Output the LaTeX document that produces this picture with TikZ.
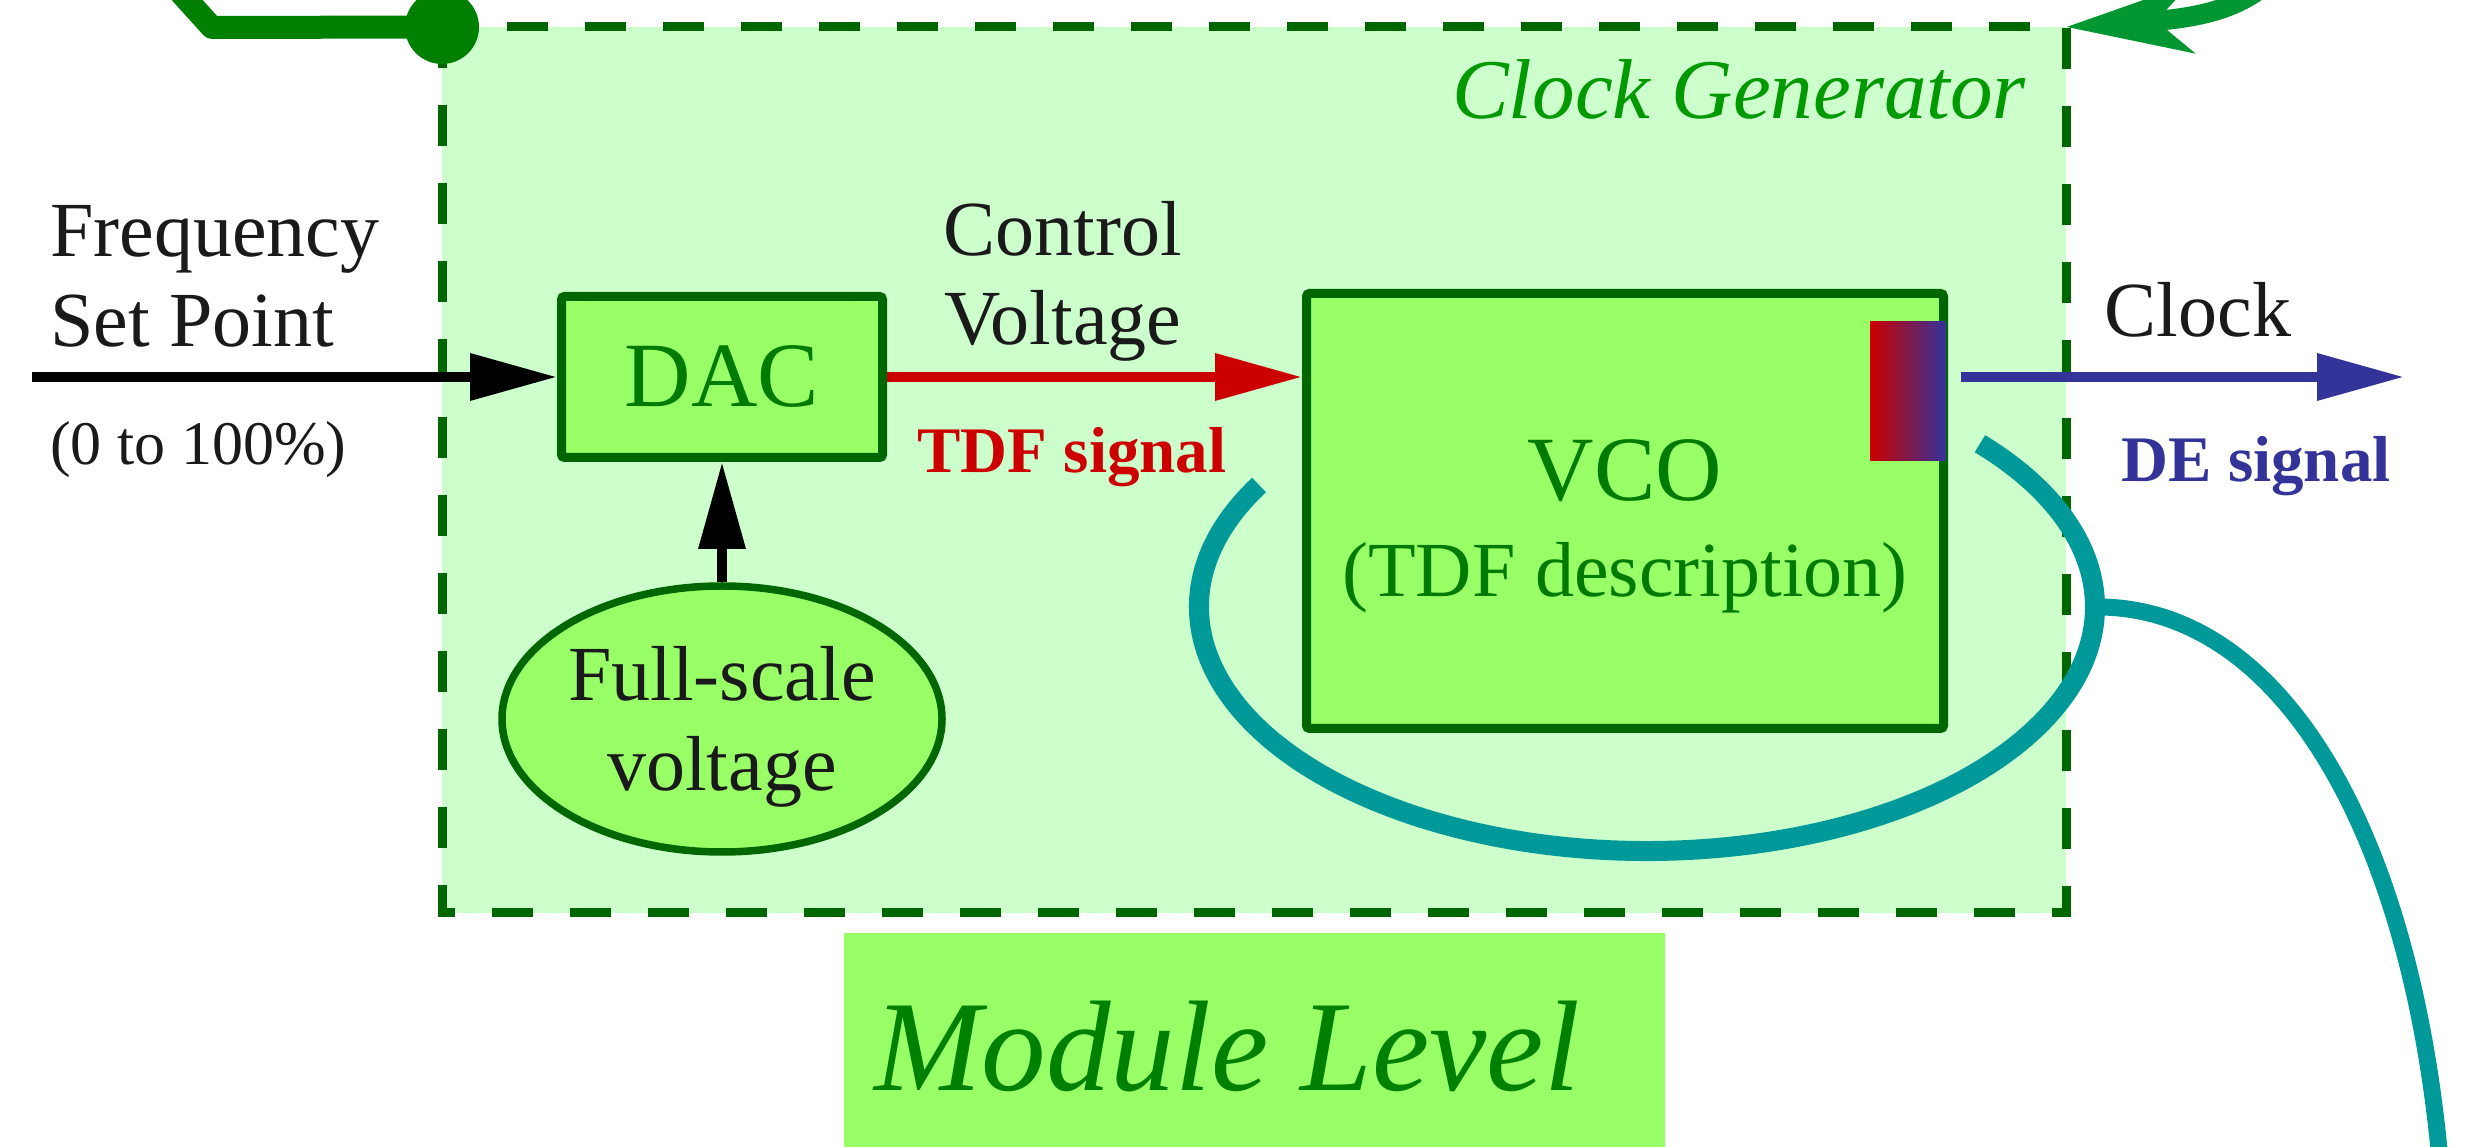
\documentclass[tikz,border=0pt]{standalone}
\usepackage{fontspec}
\setmainfont{Liberation Serif}
\usetikzlibrary{arrows.meta,shapes.geometric}
\definecolor{bglight}{HTML}{CCFFCC}
\definecolor{boxfill}{HTML}{99FF66}
\definecolor{boxline}{HTML}{006600}
\definecolor{boxtext}{HTML}{007A00}
\definecolor{cgtext}{HTML}{009900}
\definecolor{topgreen}{HTML}{008000}
\definecolor{arrgreen}{HTML}{009632}
\definecolor{loopteal}{HTML}{009999}
\definecolor{sigred}{HTML}{CC0000}
\definecolor{sigblue}{HTML}{333399}
\definecolor{txt}{HTML}{1A1A1A}
\begin{document}
\begin{tikzpicture}[x=1pt,y=1pt,
  blk/.style={draw=boxline, fill=boxfill, line width=9pt, rounded corners=3pt, inner sep=0pt},
  lbl/.style={text=txt, inner sep=0pt, font=\fontsize{78}{90}\selectfont},
  smalllbl/.style={text=txt, inner sep=0pt, font=\fontsize{62}{74}\selectfont},
  siglbl/.style={inner sep=0pt, font=\fontsize{65}{78}\selectfont\bfseries},
  sig/.style={line width=10pt, -{Triangle[length=87pt,width=45pt]}},
  cgframe/.style={draw=boxline, fill=bglight, line width=9pt, dash pattern=on 41pt off 37pt},
]
\useasboundingbox (0,0) rectangle (2476,1146);
\fill[white] (0,0) rectangle (2476,1146);

% clock generator frame
\coordinate (cgnw) at (442,1119);
\coordinate (cgse) at (2066,233);
\coordinate (cgne) at (2066,1119);
\draw[cgframe] (cgnw) rectangle (cgse);

% top-left thick line and dot
\coordinate (tlbend) at (212,1118.5);
\coordinate (tlend) at (160,1176);
\draw[topgreen, line width=23pt, line join=round] (cgnw) -- (tlbend) -- (tlend);
\node[circle, fill=topgreen, minimum size=74pt, inner sep=0pt] (dot) at (cgnw) {};

% top-right arrow
\coordinate (trstart) at (2300,1200);
\draw[arrgreen, line width=20pt, -{Stealth[length=125pt,width=68pt,inset=35pt]}]
  (trstart) .. controls (2265,1150) and (2230,1130) .. (cgne);

\node[text=cgtext, inner sep=0pt, font=\fontsize{85}{100}\selectfont\itshape, anchor=base east] (cgname) at (2026,1027) {Clock Generator};

% DAC
\node[blk, minimum width=321pt, minimum height=161pt, text=boxtext, font=\fontsize{92}{100}\selectfont] (dac) at (722,769) {DAC};

% full-scale voltage ellipse
\node[ellipse, draw=boxline, fill=boxfill, line width=7.5pt, minimum width=440pt, minimum height=266pt, inner sep=0pt] (fsv) at (722,427) {};
\node[lbl, anchor=base] (fsvA) at (722,445) {Full-scale};
\node[lbl, anchor=base] (fsvB) at (722,355) {voltage};

% VCO
\node[blk, minimum width=637pt, minimum height=435pt] (vco) at (1625,635) {};
\node[inner sep=0pt, anchor=base, text=boxtext, font=\fontsize{92}{100}\selectfont] (vcoA) at (1625,645) {VCO};
\node[lbl, text=boxtext, anchor=base] (vcoB) at (1625,549) {(TDF description)};
\node[inner sep=0pt, outer sep=0pt, minimum width=76pt, minimum height=139pt, left color=sigred, right color=sigblue, shading angle=90, shade] (port) at (1908,754.5) {};

% left labels
\node[lbl, anchor=base west] (freqA) at (50,889) {Frequency};
\node[lbl, anchor=base west] (freqB) at (50,799) {Set Point};
\node[smalllbl, anchor=base west] (range) at (50,681) {(0 to 100\%)};

% control voltage labels
\node[lbl, anchor=base] (cvA) at (1063,890) {Control};
\node[lbl, anchor=base] (cvB) at (1063,801) {Voltage};
\node[siglbl, text=sigred, anchor=base] (tdf) at (1072,673) {TDF signal};

% clock labels
\node[lbl, anchor=base] (clk) at (2198,809) {Clock};
\node[siglbl, text=sigblue, anchor=base] (de) at (2256,664) {DE signal};

% arrows
\coordinate (fin) at (32,769);
\coordinate (clkout) at (2404,769);
\draw[sig, black] (fin) -- (dac.west);
\draw[sig, sigred] (dac.east) -- (vco.west |- dac.east);
\draw[sig, black] (fsv.north) -- (dac.south);
\draw[sig, sigblue, shorten <=15pt] (port.east |- clkout) -- (clkout);

% teal loop and branch
\coordinate (loopc) at (1647,539);
\coordinate (loopr) at (2095,539);
\coordinate (loopend) at (2440,-14);
\draw[loopteal, line width=20pt] (loopc) ++(150:448pt and 244pt)
  arc[start angle=150, end angle=402, x radius=448pt, y radius=244pt];
\draw[loopteal, line width=17pt] (loopr) .. controls (2280,541) and (2410,316) .. (loopend);

% module level
\node[fill=boxfill, minimum width=821pt, minimum height=270pt, inner sep=0pt, anchor=north west] (modbox) at (844,213) {};
\node[inner sep=0pt, anchor=base west, text=topgreen, font=\fontsize{129}{140}\selectfont\itshape] (modtext) at (874,56) {Module Level};
\end{tikzpicture}
\end{document}
